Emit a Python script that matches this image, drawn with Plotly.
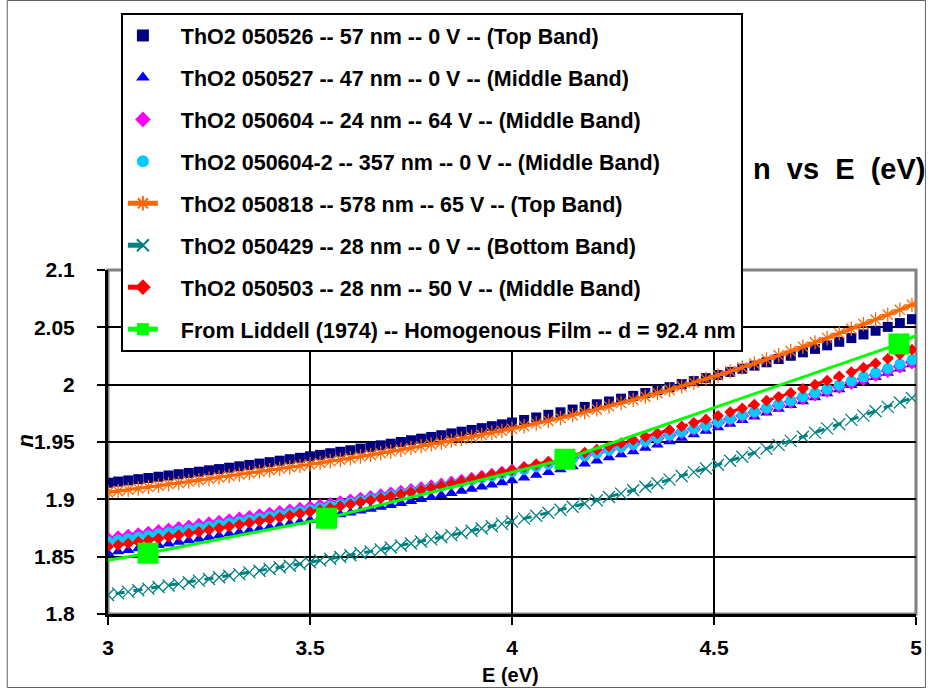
import plotly.graph_objects as go

# ---------------- data ----------------
E = [2.975, 3.000, 3.025, 3.050, 3.075, 3.100, 3.125, 3.150, 3.175, 3.200,
     3.225, 3.250, 3.275, 3.300, 3.325, 3.350, 3.375, 3.400, 3.425, 3.450,
     3.475, 3.500, 3.525, 3.550, 3.575, 3.600, 3.625, 3.650, 3.675, 3.700,
     3.725, 3.750, 3.775, 3.800, 3.825, 3.850, 3.875, 3.900, 3.925, 3.950,
     3.975, 4.00, 4.03, 4.06, 4.09, 4.12, 4.15, 4.18, 4.21, 4.24,
     4.27, 4.30, 4.33, 4.36, 4.39, 4.42, 4.45, 4.48, 4.51, 4.54,
     4.57, 4.60, 4.63, 4.66, 4.69, 4.72, 4.75, 4.78, 4.81, 4.84,
     4.87, 4.90, 4.93, 4.96, 4.99, 5.02]

n_050526 = [1.9135, 1.9145, 1.9155, 1.9165, 1.9176, 1.9186, 1.9197, 1.9208, 1.9219, 1.9230,
            1.9241, 1.9253, 1.9264, 1.9276, 1.9288, 1.9300, 1.9312, 1.9324, 1.9337, 1.9350,
            1.9362, 1.9375, 1.9388, 1.9402, 1.9415, 1.9428, 1.9442, 1.9457, 1.9471, 1.9485,
            1.9500, 1.9515, 1.9529, 1.9544, 1.9559, 1.9575, 1.9590, 1.9605, 1.9621, 1.9638,
            1.9654, 1.9670, 1.9692, 1.9714, 1.9737, 1.9759, 1.9783, 1.9806, 1.9829, 1.9853,
            1.9878, 1.9902, 1.9927, 1.9953, 1.9978, 2.0005, 2.0031, 2.0057, 2.0084, 2.0111,
            2.0139, 2.0166, 2.0195, 2.0224, 2.0252, 2.0282, 2.0312, 2.0343, 2.0374, 2.0406,
            2.0438, 2.0470, 2.0504, 2.0537, 2.0571, 2.0604]

n_050527 = [1.8516, 1.8530, 1.8544, 1.8557, 1.8571, 1.8585, 1.8599, 1.8613, 1.8627, 1.8641,
            1.8655, 1.8670, 1.8684, 1.8699, 1.8714, 1.8729, 1.8744, 1.8759, 1.8774, 1.8790,
            1.8805, 1.8820, 1.8836, 1.8852, 1.8867, 1.8883, 1.8900, 1.8916, 1.8933, 1.8949,
            1.8966, 1.8984, 1.9001, 1.9018, 1.9036, 1.9054, 1.9072, 1.9090, 1.9109, 1.9127,
            1.9146, 1.9165, 1.9189, 1.9212, 1.9236, 1.9261, 1.9286, 1.9311, 1.9337, 1.9364,
            1.9391, 1.9418, 1.9447, 1.9476, 1.9504, 1.9534, 1.9565, 1.9595, 1.9626, 1.9657,
            1.9689, 1.9721, 1.9754, 1.9787, 1.9820, 1.9854, 1.9889, 1.9923, 1.9958, 1.9994,
            2.0029, 2.0065, 2.0102, 2.0139, 2.0176, 2.0213]

n_050604 = [1.8642, 1.8655, 1.8668, 1.8682, 1.8695, 1.8708, 1.8722, 1.8735, 1.8749, 1.8762,
            1.8776, 1.8790, 1.8803, 1.8817, 1.8831, 1.8845, 1.8859, 1.8874, 1.8888, 1.8902,
            1.8916, 1.8930, 1.8944, 1.8959, 1.8974, 1.8989, 1.9004, 1.9019, 1.9034, 1.9050,
            1.9065, 1.9081, 1.9096, 1.9112, 1.9128, 1.9145, 1.9161, 1.9178, 1.9195, 1.9212,
            1.9231, 1.9250, 1.9271, 1.9293, 1.9314, 1.9337, 1.9360, 1.9383, 1.9407, 1.9431,
            1.9456, 1.9480, 1.9506, 1.9532, 1.9558, 1.9585, 1.9612, 1.9640, 1.9669, 1.9698,
            1.9728, 1.9757, 1.9788, 1.9819, 1.9850, 1.9883, 1.9916, 1.9948, 1.9982, 2.0016,
            2.0050, 2.0085, 2.0121, 2.0158, 2.0195, 2.0232]

n_050604_2 = [1.8617, 1.8630, 1.8643, 1.8657, 1.8670, 1.8683, 1.8697, 1.8710, 1.8724, 1.8737,
              1.8751, 1.8765, 1.8779, 1.8793, 1.8807, 1.8822, 1.8836, 1.8851, 1.8866, 1.8880,
              1.8895, 1.8910, 1.8925, 1.8941, 1.8956, 1.8971, 1.8987, 1.9003, 1.9019, 1.9035,
              1.9051, 1.9068, 1.9084, 1.9101, 1.9118, 1.9135, 1.9152, 1.9169, 1.9187, 1.9204,
              1.9222, 1.9240, 1.9262, 1.9285, 1.9307, 1.9331, 1.9355, 1.9379, 1.9404, 1.9429,
              1.9455, 1.9480, 1.9507, 1.9534, 1.9561, 1.9589, 1.9617, 1.9646, 1.9675, 1.9705,
              1.9736, 1.9766, 1.9798, 1.9830, 1.9862, 1.9896, 1.9930, 1.9963, 1.9998, 2.0034,
              2.0069, 2.0105, 2.0142, 2.0180, 2.0217, 2.0255]

n_050818 = [1.9049, 1.9060, 1.9072, 1.9084, 1.9095, 1.9107, 1.9119, 1.9131, 1.9143, 1.9155,
            1.9167, 1.9180, 1.9192, 1.9204, 1.9217, 1.9229, 1.9242, 1.9254, 1.9267, 1.9280,
            1.9292, 1.9305, 1.9318, 1.9332, 1.9345, 1.9359, 1.9373, 1.9388, 1.9402, 1.9417,
            1.9432, 1.9448, 1.9463, 1.9479, 1.9495, 1.9512, 1.9528, 1.9545, 1.9562, 1.9580,
            1.9597, 1.9615, 1.9638, 1.9661, 1.9684, 1.9709, 1.9734, 1.9759, 1.9785, 1.9812,
            1.9840, 1.9867, 1.9896, 1.9926, 1.9955, 1.9986, 2.0017, 2.0049, 2.0081, 2.0116,
            2.0150, 2.0184, 2.0220, 2.0256, 2.0293, 2.0331, 2.0369, 2.0407, 2.0447, 2.0487,
            2.0528, 2.0568, 2.0611, 2.0653, 2.0696, 2.0739]

n_050429 = [1.8152, 1.8166, 1.8180, 1.8193, 1.8207, 1.8221, 1.8235, 1.8249, 1.8263, 1.8277,
            1.8291, 1.8305, 1.8320, 1.8334, 1.8348, 1.8363, 1.8377, 1.8392, 1.8407, 1.8421,
            1.8436, 1.8451, 1.8466, 1.8482, 1.8497, 1.8513, 1.8530, 1.8546, 1.8563, 1.8580,
            1.8598, 1.8615, 1.8633, 1.8651, 1.8670, 1.8688, 1.8707, 1.8726, 1.8746, 1.8766,
            1.8786, 1.8806, 1.8832, 1.8857, 1.8883, 1.8909, 1.8936, 1.8964, 1.8992, 1.9021,
            1.9050, 1.9079, 1.9110, 1.9141, 1.9172, 1.9204, 1.9237, 1.9269, 1.9302, 1.9337,
            1.9371, 1.9405, 1.9440, 1.9475, 1.9510, 1.9546, 1.9582, 1.9619, 1.9655, 1.9693,
            1.9730, 1.9768, 1.9806, 1.9845, 1.9883, 1.9922]

n_050503 = [1.8573, 1.8587, 1.8601, 1.8615, 1.8629, 1.8643, 1.8658, 1.8672, 1.8687, 1.8701,
            1.8716, 1.8732, 1.8747, 1.8762, 1.8778, 1.8794, 1.8809, 1.8825, 1.8841, 1.8858,
            1.8874, 1.8890, 1.8907, 1.8924, 1.8940, 1.8957, 1.8975, 1.8992, 1.9010, 1.9027,
            1.9045, 1.9064, 1.9082, 1.9100, 1.9119, 1.9138, 1.9157, 1.9176, 1.9196, 1.9215,
            1.9235, 1.9255, 1.9280, 1.9305, 1.9330, 1.9356, 1.9382, 1.9408, 1.9434, 1.9462,
            1.9490, 1.9518, 1.9547, 1.9576, 1.9605, 1.9636, 1.9667, 1.9697, 1.9729, 1.9761,
            1.9794, 1.9826, 1.9860, 1.9894, 1.9929, 1.9964, 2.0000, 2.0036, 2.0073, 2.0110,
            2.0148, 2.0186, 2.0226, 2.0265, 2.0305, 2.0344]

E_liddell = [2.90, 3.099, 3.541, 4.131, 4.958, 5.20]
n_liddell = [1.8408, 1.853, 1.8835, 1.935, 2.0355, 2.078]

series_names = [
    "ThO2 050526 -- 57 nm -- 0 V -- (Top Band)",
    "ThO2 050527 -- 47 nm -- 0 V -- (Middle Band)",
    "ThO2 050604 -- 24 nm -- 64 V -- (Middle Band)",
    "ThO2 050604-2 -- 357 nm -- 0 V -- (Middle Band)",
    "ThO2 050818 -- 578 nm -- 65 V -- (Top Band)",
    "ThO2 050429 -- 28 nm -- 0 V -- (Bottom Band)",
    "ThO2 050503 -- 28 nm -- 50 V -- (Middle Band)",
    "From Liddell (1974) -- Homogenous Film -- d = 92.4 nm",
]

x_tickvals = [3, 3.5, 4, 4.5, 5]
x_ticktext = ["3", "3.5", "4", "4.5", "5"]
y_tickvals = [1.8, 1.85, 1.9, 1.95, 2.0, 2.05, 2.1]
y_ticktext = ["1.8", "1.85", "1.9", "1.95", "2", "2.05", "2.1"]

title_text = "n vs E (eV)"
x_title = "E (eV)"
y_title = "n"

# ---------------- figure ----------------
FONT = "Liberation Sans, Arial, sans-serif"
W, H = 933, 689
ML, MR, MT, MB = 108, 11, 270, 75
PW, PH = W - ML - MR, H - MT - MB
NB = "\u00a0"


def px(xp):
    return (xp - ML) / PW


def py(yp):
    return (H - MB - yp) / PH


fig = go.Figure()

fig.add_trace(go.Scatter(x=E, y=n_050526, mode="markers", name=NB * 3 + series_names[0],
                         legendgroup="g0",
                         marker=dict(symbol="square", size=10, color="#000080")))
fig.add_trace(go.Scatter(x=E, y=n_050527, mode="markers", name=NB * 3 + series_names[1],
                         legendgroup="g1",
                         marker=dict(symbol="triangle-up", size=11, color="#0000FF")))
fig.add_trace(go.Scatter(x=E, y=n_050604, mode="markers", name=NB * 3 + series_names[2],
                         legendgroup="g2",
                         marker=dict(symbol="diamond", size=11, color="#FF00FF")))
fig.add_trace(go.Scatter(x=E, y=n_050604_2, mode="markers", name=NB * 3 + series_names[3],
                         legendgroup="g3",
                         marker=dict(symbol="circle", size=11, color="#00CCFF")))
fig.add_trace(go.Scatter(x=E, y=n_050818, mode="lines+markers", name=NB * 3 + series_names[4],
                         legendgroup="g4",
                         line=dict(color="#FF6600", width=3),
                         marker=dict(symbol="asterisk-open", size=12,
                                     color="#FF6600", line=dict(color="#FF6600", width=1.3))))
fig.add_trace(go.Scatter(x=E, y=n_050429, mode="lines+markers", name=NB * 3 + series_names[5],
                         legendgroup="g5",
                         line=dict(color="#008080", width=3, dash="dash"),
                         marker=dict(symbol="x-thin-open", size=12,
                                     color="#008080", line=dict(color="#008080", width=1.3))))
fig.add_trace(go.Scatter(x=E, y=n_050503, mode="lines+markers", name=NB * 3 + series_names[6],
                         legendgroup="g6",
                         line=dict(color="#FF0000", width=3, dash="dash"),
                         marker=dict(symbol="diamond", size=9, color="#FF0000")))
fig.add_trace(go.Scatter(x=E_liddell, y=n_liddell, mode="lines+markers", name=NB * 3 + series_names[7],
                         legendgroup="g7",
                         line=dict(color="#00FF00", width=3),
                         marker=dict(symbol="square", size=21, color="#00FF00")))

axis_font = dict(family=FONT, size=21, color="black", weight="bold")

fig.update_xaxes(range=[3, 5], tickvals=x_tickvals, ticktext=x_ticktext,
                 showgrid=True, gridcolor="black", gridwidth=2,
                 showline=True, linecolor="black", linewidth=3,
                 ticks="outside", ticklen=8, tickwidth=2, tickcolor="black",
                 tickfont=axis_font, ticklabelstandoff=5, zeroline=False)
fig.update_yaxes(range=[1.8, 2.1], tickvals=y_tickvals, ticktext=y_ticktext,
                 showgrid=True, gridcolor="black", gridwidth=2,
                 showline=True, linecolor="black", linewidth=3,
                 ticks="outside", ticklen=8, tickwidth=2, tickcolor="black",
                 tickfont=axis_font, ticklabelstandoff=18, zeroline=False)

fig.update_layout(
    width=W, height=H,
    margin=dict(l=ML, r=MR, t=MT, b=MB, pad=0),
    paper_bgcolor="white", plot_bgcolor="white",
    showlegend=True,
    legend=dict(x=px(121), y=py(13), xanchor="left", yanchor="top",
                bgcolor="white", bordercolor="black", borderwidth=2,
                font=dict(family=FONT, size=21.5, color="black", weight="bold"),
                itemsizing="constant", tracegroupgap=11, traceorder="grouped"),
    shapes=[
        dict(type="rect", xref="paper", yref="paper", x0=0, x1=1, y0=0, y1=1,
             line=dict(color="#808080", width=3), layer="below"),
        dict(type="rect", xref="paper", yref="paper", x0=px(6.5), x1=px(931.5),
             y0=py(687.5), y1=py(0.5), line=dict(color="#606060", width=1)),
    ],
    annotations=[
        dict(text="n" + NB * 2 + "vs" + NB * 2 + "E" + NB * 2 + "(eV)",
             xref="paper", yref="paper", x=px(933), y=py(169),
             xanchor="right", yanchor="middle", showarrow=False,
             font=dict(family=FONT, size=29, color="black", weight="bold")),
        dict(text=x_title, xref="paper", yref="paper", x=px(513), y=py(675),
             xanchor="center", yanchor="middle", showarrow=False,
             font=dict(family=FONT, size=20, color="black", weight="bold")),
        dict(text="<i>" + y_title + "</i>", xref="paper", yref="paper", x=px(24), y=py(441),
             xanchor="center", yanchor="middle", showarrow=False, textangle=-90,
             font=dict(family=FONT, size=22, color="black", weight="bold")),
    ],
)

fig.write_html("out.html", config={"displayModeBar": False},
               post_script="document.body.style.margin='0';document.body.style.padding='0';")
